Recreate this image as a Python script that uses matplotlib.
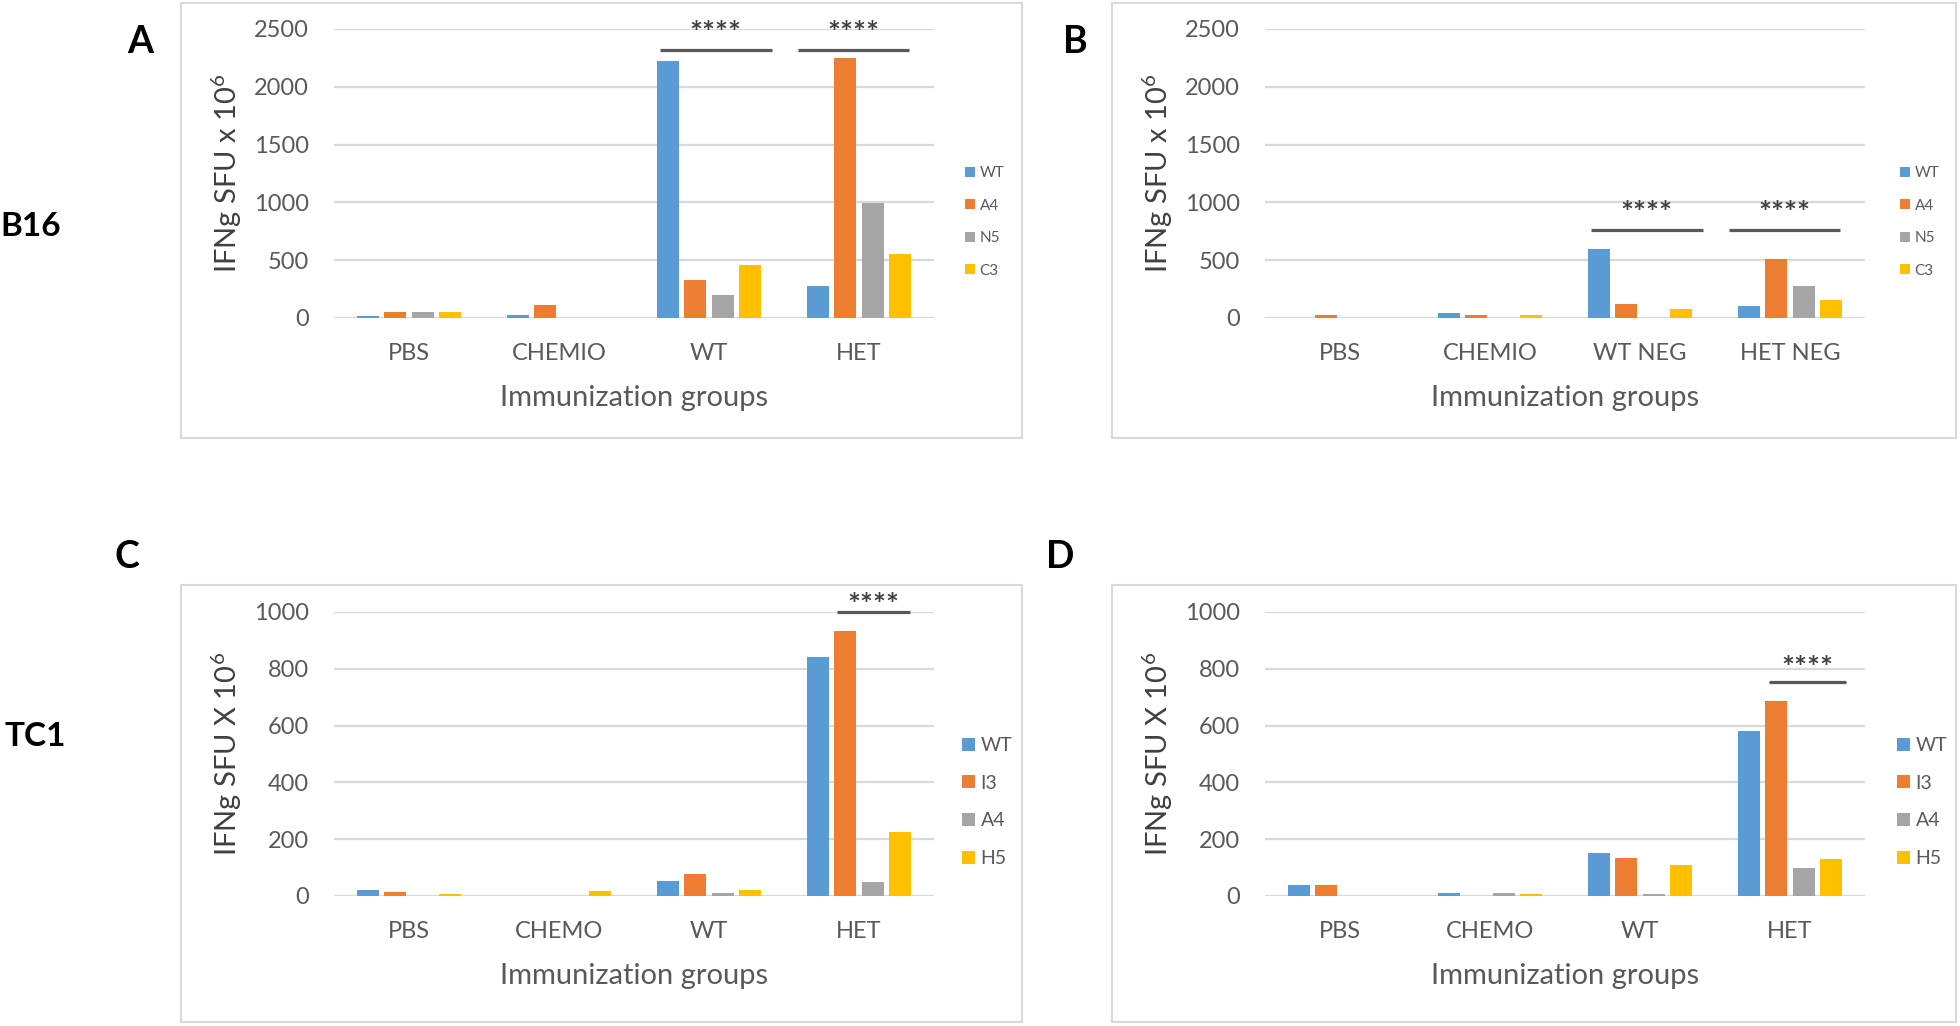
import matplotlib.pyplot as plt
from matplotlib.patches import Rectangle

plt.rcParams['font.family'] = ['Lato', 'DejaVu Sans']
plt.rcParams['mathtext.default'] = 'regular'

W, H = 1960, 1026
colors = ['#5B9BD5', '#ED7D31', '#A5A5A5', '#FFC000']

# B16 panels
groups_a = ['PBS', 'CHEMIO', 'WT', 'HET']
groups_b = ['PBS', 'CHEMIO', 'WT NEG', 'HET NEG']
series_b16 = ['WT', 'A4', 'N5', 'C3']
a_wt = [20, 28, 2220, 280]
a_a4 = [55, 110, 330, 2245]
a_n5 = [48, 0, 200, 995]
a_c3 = [48, 0, 460, 555]
b_wt = [0, 44, 596, 108]
b_a4 = [25, 25, 122, 509]
b_n5 = [0, 0, 0, 276]
b_c3 = [0, 25, 81, 160]
yticks_b16 = [0, 500, 1000, 1500, 2000, 2500]

# TC1 panels
groups_tc1 = ['PBS', 'CHEMO', 'WT', 'HET']
series_tc1 = ['WT', 'I3', 'A4', 'H5']
c_wt = [20, 0, 52, 841]
c_i3 = [14, 0, 79, 932]
c_a4 = [0, 0, 12, 49]
c_h5 = [6, 16, 20, 227]
d_wt = [37, 12, 152, 582]
d_i3 = [37, 0, 135, 685]
d_a4 = [0, 9, 7, 100]
d_h5 = [0, 8, 108, 131]
yticks_tc1 = [0, 200, 400, 600, 800, 1000]

# significance bars: (group index, x from, x to, line y, star y)
sig_a = [(2, -0.33, 0.42, 2318, 2461), (3, -0.41, 0.33, 2318, 2461)]
sig_b = [(2, -0.33, 0.42, 760, 901), (3, -0.41, 0.33, 760, 901)]
sig_c = [(3, -0.15, 0.34, 1001, 1021)]
sig_d = [(3, -0.14, 0.37, 752, 801)]

fig = plt.figure(figsize=(W / 100, H / 100), dpi=100)


def fx(px):
    return px / W


def fy(py):
    return 1 - py / H


def panel(ax_px, frame_px, groups, series, values, yticks, ylabel, sig,
          leg_px, leg_fs, leg_sp, letter, letter_px):
    x0, y0, x1, y1 = ax_px
    fig.patches.append(Rectangle((fx(frame_px[0]), fy(frame_px[3])),
                                 fx(frame_px[2] - frame_px[0]),
                                 (frame_px[3] - frame_px[1]) / H,
                                 transform=fig.transFigure, fill=False,
                                 edgecolor='#d9d9d9', lw=1.5))
    ax = fig.add_axes([fx(x0), fy(y1), fx(x1 - x0), (y1 - y0) / H])
    pitch, bw = 0.183, 0.147
    handles = []
    for i, (name, vals) in enumerate(zip(series, values)):
        xs = [g + (i - 1.5) * pitch for g in range(len(groups))]
        h = ax.bar(xs, vals, width=bw, color=colors[i], label=name, zorder=3)
        handles.append(h)
    ax.set_xlim(-0.5, len(groups) - 0.5)
    ax.set_ylim(0, yticks[-1])
    ax.set_yticks(yticks)
    ax.set_xticks(range(len(groups)))
    ax.set_xticklabels(groups)
    ax.yaxis.grid(True, color='#d9d9d9', lw=1.6, zorder=0)
    ax.set_axisbelow(True)
    for s in ax.spines.values():
        s.set_visible(False)
    ax.tick_params(length=0, labelsize=17, colors='#595959', pad=18)
    for g, a, b, ly, sy in sig:
        ax.plot([g + a, g + b], [ly, ly], color='#595959', lw=2.3,
                solid_capstyle='butt', clip_on=False, zorder=4)
        ax.text(g + (a + b) / 2, sy, '****', ha='center', va='center',
                fontsize=22, fontweight='bold', color='#404040',
                clip_on=False)
    fig.text(fx((x0 + x1) / 2), fy(y1 + 80), 'Immunization groups',
             ha='center', va='center', fontsize=21, color='#595959')
    fig.text(fx(frame_px[0] + 46), fy((y0 + y1) / 2), ylabel, rotation=90,
             ha='center', va='center', fontsize=21, color='#404040')
    ax.legend(handles=handles, loc='center left', frameon=False,
              bbox_to_anchor=(fx(leg_px[0]), fy(leg_px[1])),
              bbox_transform=fig.transFigure, fontsize=leg_fs,
              handlelength=0.65, handleheight=0.65, handletextpad=0.3,
              labelspacing=leg_sp, borderpad=0, borderaxespad=0,
              labelcolor='#595959')
    fig.text(fx(letter_px[0]), fy(letter_px[1]), letter, ha='center',
             va='center', fontsize=27, fontweight='bold', color='black')
    return ax


panel((334, 29, 934, 318), (181, 3, 1022, 438), groups_a, series_b16,
      [a_wt, a_a4, a_n5, a_c3], yticks_b16, r'IFNg SFU x 10$^{6}$', sig_a,
      (965, 222), 11, 1.21, 'A', (140, 42))
panel((1265, 29, 1865, 318), (1112, 3, 1956, 438), groups_b, series_b16,
      [b_wt, b_a4, b_n5, b_c3], yticks_b16, r'IFNg SFU x 10$^{6}$', sig_b,
      (1900, 222), 11, 1.21, 'B', (1075, 42))
panel((334, 612, 934, 896), (181, 585, 1022, 1022), groups_tc1, series_tc1,
      [c_wt, c_i3, c_a4, c_h5], yticks_tc1, r'IFNg SFU X 10$^{6}$', sig_c,
      (962, 802), 14, 1.06, 'C', (127, 557))
panel((1265, 612, 1865, 896), (1112, 585, 1956, 1022), groups_tc1, series_tc1,
      [d_wt, d_i3, d_a4, d_h5], yticks_tc1, r'IFNg SFU X 10$^{6}$', sig_d,
      (1897, 802), 14, 1.06, 'D', (1060, 557))

fig.text(fx(0), fy(226), 'B16', ha='left', va='center', fontsize=24,
         fontweight='bold', color='black')
fig.text(fx(4), fy(736), 'TC1', ha='left', va='center', fontsize=24,
         fontweight='bold', color='black')

fig.savefig('out.png', dpi=100, facecolor='white')
